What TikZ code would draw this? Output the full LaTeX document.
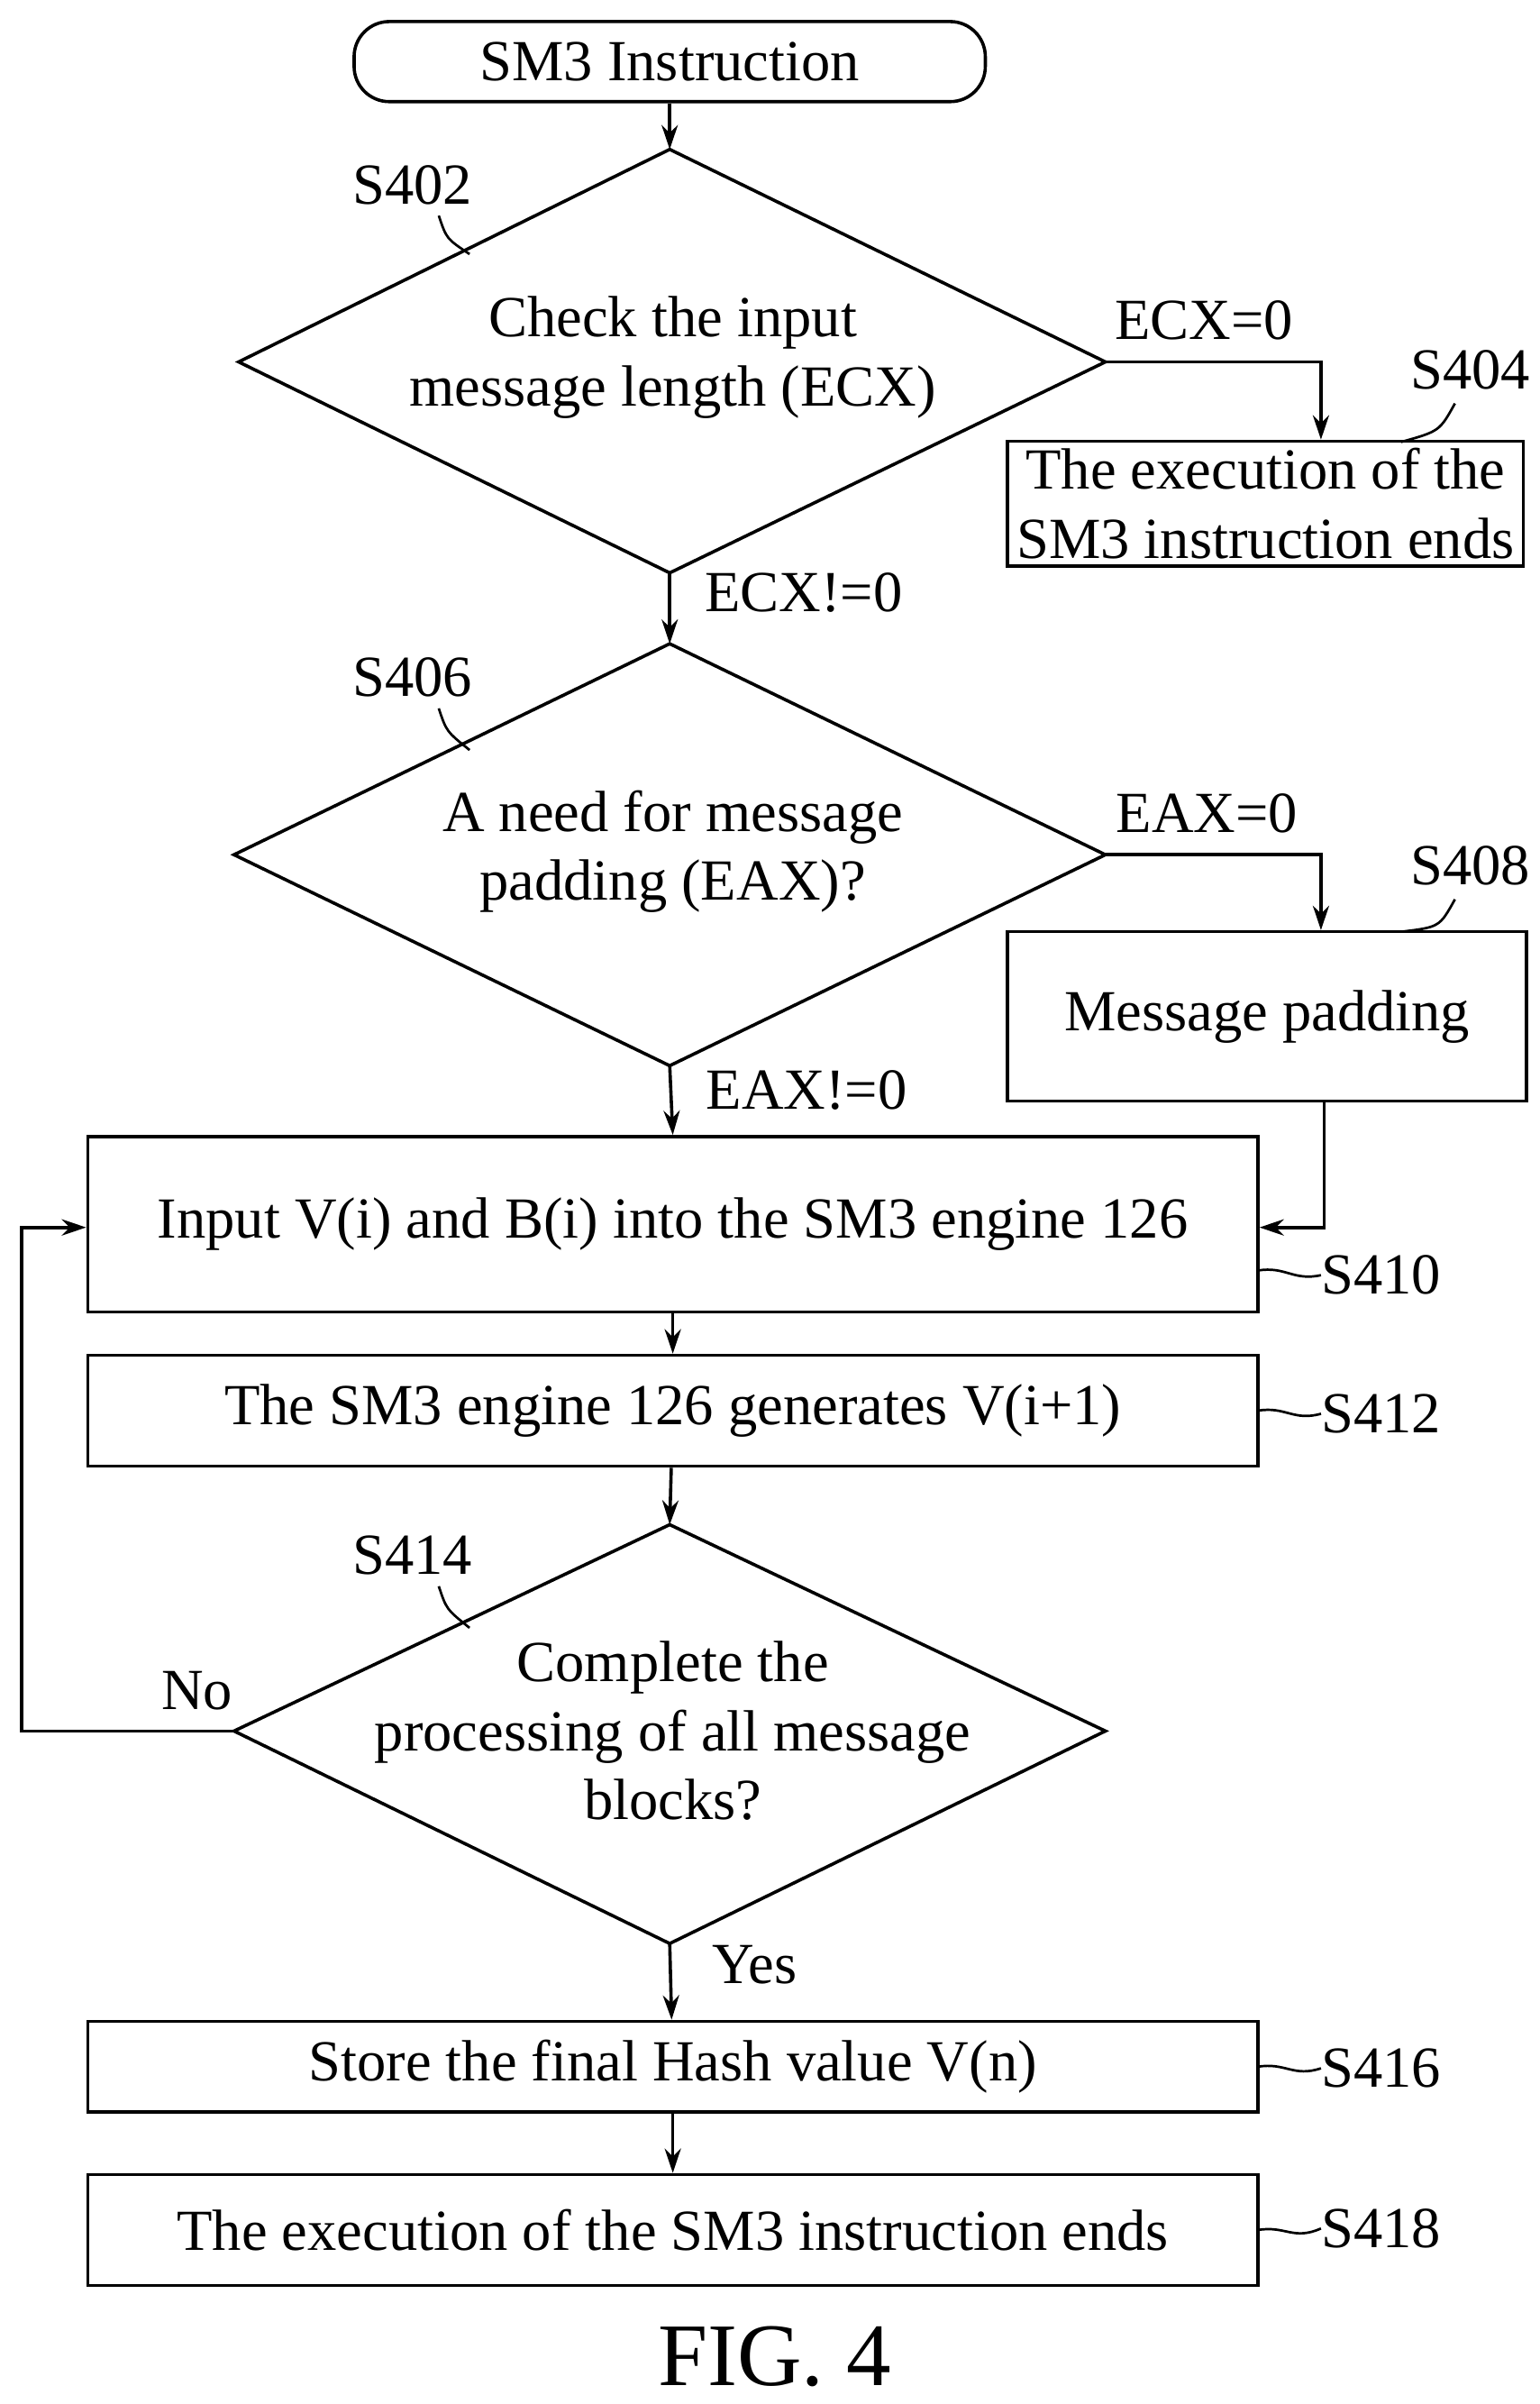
\documentclass[tikz,border=0pt]{standalone}
\usepackage{fontspec}
\setmainfont{Liberation Serif}
\usetikzlibrary{shapes.geometric,arrows.meta}
\begin{document}
\begin{tikzpicture}[x=0.02cm,y=-0.02cm,
  every node/.style={font=\fontsize{21.5}{25.5}\selectfont},
  box/.style={draw,line width=1.2pt,rectangle,inner sep=0pt,align=center},
  arr/.style={line width=1.2pt,-{Stealth[length=9pt,width=6pt]}},
  lead/.style={line width=0.9pt}]
\useasboundingbox (0,0) rectangle (1000,1561);
\node[box,rounded corners=13pt,minimum width=410*0.02cm,minimum height=52*0.02cm] (start) at (435,40) {SM3 Instruction};
\path[draw,line width=1.2pt] (435,97) coordinate (d1t) -- (718,235) coordinate (d1r) -- (435,372) coordinate (d1b) -- (155,235) coordinate (d1l) -- cycle;
\node[align=center] (t1) at (437,232) {Check the input\\message length (ECX)};
\node[box,minimum width=335*0.02cm,minimum height=81*0.02cm] (s404) at (822,327) {The execution of the\\SM3 instruction ends};
\path[draw,line width=1.2pt] (435,418) coordinate (d2t) -- (718,555) coordinate (d2r) -- (435,692) coordinate (d2b) -- (152,555) coordinate (d2l) -- cycle;
\node[align=center] (t2) at (437,553) {A need for message\\padding (EAX)?};
\node[box,minimum width=337*0.02cm,minimum height=110*0.02cm] (s408) at (823,660) {Message padding};
\node[box,minimum width=760*0.02cm,minimum height=114*0.02cm] (s410) at (437,795) {Input V(i) and B(i) into the SM3 engine 126};
\node[box,minimum width=760*0.02cm,minimum height=72*0.02cm] (s412) at (437,916) {The SM3 engine 126 generates V(i+1)};
\path[draw,line width=1.2pt] (435,990) coordinate (d3t) -- (718,1124) coordinate (d3r) -- (435,1262) coordinate (d3b) -- (152,1124) coordinate (d3l) -- cycle;
\node[align=center] (t3) at (437,1124) {Complete the\\processing of all message\\blocks?};
\node[box,minimum width=760*0.02cm,minimum height=59*0.02cm] (s416) at (437,1342) {Store the final Hash value V(n)};
\node[box,minimum width=760*0.02cm,minimum height=72*0.02cm] (s418) at (437,1448) {The execution of the SM3 instruction ends};
\node (fig) at (503,1530) {\fontsize{33}{37}\selectfont FIG. 4};
% connectors
\coordinate (cx) at (858,0);
\draw[arr] (start) -- (d1t);
\draw[arr] (d1r) -| (cx |- s404.north);
\draw[arr] (d1b) -- (d2t);
\draw[arr] (d2r) -| (cx |- s408.north);
\draw[arr] (d2b) -- (s410.north);
\coordinate (c1) at (860,797);
\draw[arr] (s408.south -| c1) |- (s410.east |- c1);
\draw[arr] (s410) -- (s412);
\draw[arr] (s412) -- (d3t);
\coordinate (c2) at (14,797);
\draw[arr] (d3l) -| (c2) -- (s410.west |- c2);
\draw[arr] (d3b) -- (s416);
\draw[arr] (s416) -- (s418);
% edge labels
\node (l1) at (782,208) {ECX=0};
\node (l2) at (522,385) {ECX!=0};
\node (l3) at (784,528) {EAX=0};
\node (l4) at (524,708) {EAX!=0};
\node (l5) at (128,1098) {No};
\node (l6) at (490,1276) {Yes};
% step labels
\node (n402) at (268,120) {S402};
\draw[lead] (285,140) .. controls (290,155) .. (305,165);
\node (n404) at (955,240) {S404};
\draw[lead] (945,262) .. controls (935,280) .. (910,287);
\node (n406) at (268,440) {S406};
\draw[lead] (285,460) .. controls (290,475) .. (305,487);
\node (n408) at (955,562) {S408};
\draw[lead] (945,584) .. controls (935,602) .. (910,605);
\node (n410) at (897,828) {S410};
\draw[lead] (817,825) .. controls (835,822) and (840,832) .. (858,828);
\node (n412) at (897,918) {S412};
\draw[lead] (817,916) .. controls (835,913) and (840,923) .. (858,918);
\node (n414) at (268,1010) {S414};
\draw[lead] (285,1030) .. controls (290,1045) .. (305,1057);
\node (n416) at (897,1343) {S416};
\draw[lead] (817,1342) .. controls (835,1339) and (840,1349) .. (858,1343);
\node (n418) at (897,1447) {S418};
\draw[lead] (817,1448) .. controls (835,1445) and (840,1455) .. (858,1447);
\end{tikzpicture}
\end{document}
